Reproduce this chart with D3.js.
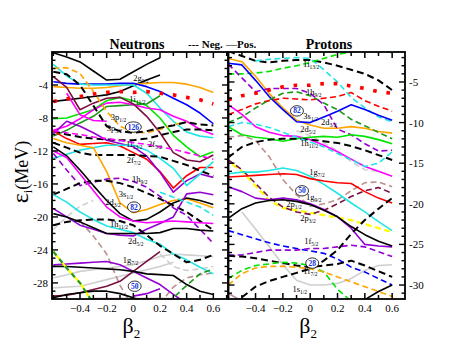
<!DOCTYPE html>
<html><head><meta charset="utf-8">
<script src="https://cdn.jsdelivr.net/npm/d3@7"></script>
<style>body{margin:0;background:#fff}svg{display:block}text{font-family:"Liberation Serif","Times New Roman",serif}</style>
</head><body><svg id="c" width="457" height="353"></svg>
<script>
const betas = [-0.6,-0.5,-0.4,-0.3,-0.2,-0.1,0,0.1,0.2,0.3,0.4,0.5,0.6];
const _ = null;
// ---------- Neutron levels (MeV) ----------
const nBlackTop   = [-0.1,-0.6,-1.2,-2.3,-3.4,-3.3,-2.4,-1.5,-0.7,_,_,_,_];
const nBlack2g    = [-6.0,-5.8,-5.6,-5.4,-5.2,-4.8,-4.1,-3.4,-2.8,_,_,_,_];
const nOrangeTop  = [-4.2,-4.3,-4.4,-4.4,-4.3,-4.1,-3.9,-3.8,-3.7,-3.7,-3.9,-4.3,-4.9];
const nBlueTop    = [-3.6,-3.8,-3.9,-3.9,-3.9,-3.8,-3.8,-4.2,-4.8,-5.6,-6.4,-7.4,-8.7];
const nRedDot     = [-6.0,-5.7,-5.4,-5.1,-4.9,-4.8,-4.9,-4.8,-5.0,-5.2,-5.5,-5.8,-6.3];
const nCyanTop    = [-1.5,-2.9,-3.9,-4.0,-4.0,-4.0,-4.0,-5.0,-6.8,-8.4,-9.7,-10.2,-10.4];
const nLime       = [-8.1,-8.0,-7.5,-7.0,-5.9,-5.5,-5.9,-6.5,-8.0,-10.1,-11.5,-12.7,-12.1];
const nDkGreen    = [-10.2,-9.5,-8.6,-7.8,-6.6,-6.5,-6.4,-6.3,-5.3,_,_,_,_];
const nMagenta1   = [-9.5,-9.0,-8.1,-7.0,-6.2,-6.1,-6.4,-6.8,-7.0,-7.8,-8.4,-9.4,-10.0];
const nMagenta2   = [_,-5.0,-7.6,-8.3,-8.4,_,_,_,_,_,_,_,_];
const nOrangeDash = [-2.0,-1.9,-2.6,-4.8,-7.2,-9.0,-9.7,-9.8,-9.4,-8.8,-8.5,_,_];
const nBlackDashA = [-2.4,-2.7,-4.0,-6.5,-9.0,-9.6,-9.8,-9.6,-9.2,-8.9,-8.5,-8.8,-8.9];
const nBlackDashB = [-9.6,-10.0,-10.3,-10.5,-10.6,-10.7,-10.7,-10.5,-10.1,-9.7,-9.4,-9.4,-9.5];
const nRed        = [-9.6,-10.5,-11.2,-11.1,-11.0,-11.4,-12.2,-13.0,-14.5,-16.5,-15.0,-14.0,-14.0];
const nPurple1    = [-9.9,-8.4,-9.0,-9.8,-10.7,-11.1,-11.5,-12.6,-14.6,-17.0,-15.6,-14.8,-15.2];
const nCyan2      = [-12.9,-12.4,-11.9,-11.6,-11.3,-11.3,-11.3,-11.9,-12.9,-14.1,-16.2,-14.8,-13.3];
const nBlackDash2f= [-11.0,-11.6,-12.2,-12.5,-12.5,-12.5,-12.5,-12.6,-12.7,-13.2,-13.7,-14.4,-15.0];
const nMagentaDash= [-9.5,-9.8,-10.0,-10.3,-10.5,-10.7,-11.0,-11.2,-11.5,-11.8,-12.2,-12.6,-13.0];
const nOrange2    = [-10.5,-11.0,-11.3,-11.6,-14.5,-18.3,-19.5,-19.1,-18.5,-18.0,-17.8,-18.3,-18.9];
const nPurpleDash = [-12.3,-14.3,-16.2,-15.8,-15.4,-15.3,-15.7,-16.4,-17.5,-18.9,-19.8,-21.5,-23.2];
const nBlackDash1h= [-17.3,-16.6,-15.9,-15.6,-15.6,-15.9,-16.4,-17.1,-17.8,-18.6,-19.4,-20.5,-21.6];
const nBlackC     = [-11.5,-12.6,-14.3,-16.2,-18.0,-19.6,-20.5,-20.3,-19.4,-18.3,-17.7,-18.0,-18.5];
const nPurple2    = [-19.0,-20.0,-21.0,-21.5,-22.0,-22.2,-22.3,-21.5,-20.8,-20.0,-17.2,-17.0,-17.3];
const nCyan3      = [-17.3,-18.2,-19.4,-20.3,-21.1,-21.5,-21.9,-22.7,-23.3,-24.5,-25.2,-26.1,-26.9];
const nMagenta3   = [-12.0,-12.8,-14.8,-16.8,-18.8,-20.0,-20.5,-20.7,-20.6,-20.5,-20.6,-20.7,-20.8];
const nCyanDash   = [_,_,_,_,_,_,_,_,-17.0,-17.6,-18.2,-18.8,-19.8];
const nBlack1h    = [-19.6,-20.0,-20.6,-21.3,-22.0,-22.0,-22.0,-22.0,-21.9,-21.4,-21.4,-21.6,-21.7];
const nBlackDashE = [-21.0,-20.6,-20.4,-20.3,-20.3,-20.5,-21.0,-22.2,-23.5,-24.5,-25.5,-25.2,-24.6];
const nGray1      = [-27.4,-27.0,-26.6,-26.4,-26.2,-26.0,-25.8,-25.3,-24.8,-24.5,-24.6,-24.7,-24.8];
const nGray2      = [-28.6,-28.5,-28.4,-28.0,-27.6,-27.2,-26.8,-26.4,-26.0,-25.5,_,_,_];
const nGrayDash1  = [_,_,_,_,_,_,_,_,-24.5,-26.0,-26.5,-26.3,-26.0];
const nGrayDash2  = [-21.5,-20.0,-18.7,-18.0,_,_,_,_,_,_,_,_,_];
const nRosyDash1  = [_,_,-20.5,-22.3,-24.5,-28.3,-31.0,_,_,_,_,_,_];
const nRosyDash2  = [_,_,_,_,_,_,_,_,-30.5,-28.5,-27.4,-27.0,-26.8];
const nMaroon1    = [-29.6,-29.5,-29.2,-28.8,-28.4,-27.8,-26.6,-25.4,-24.2,_,_,_,_];
const nMaroon2    = [-3.0,-4.3,-7.0,-6.2,-5.6,-5.5,-6.3,-7.8,-9.8,-12.2,-13.1,-13.3,-12.5];
const nPurple1g   = [-25.8,-25.7,-25.6,-25.5,-25.4,-25.8,-26.6,-27.4,-28.2,-29.4,-30.5,_,_];
const nPurpleLow  = [_,_,_,_,_,_,-29.6,-29.3,-28.7,_,_,_,_];
const nBlack1g    = [-26.0,-26.0,-26.1,-26.2,-26.3,-26.4,-26.6,-26.9,-27.0,-27.1,-28.2,-29.0,-29.4];
const nBlackLow   = [-29.8,-29.4,-29.2,-29.0,-29.0,-29.3,-29.8,-30.5,_,_,_,_,_];
const nYellowGreen= [-24.2,-26.2,-28.0,-30.5,_,_,_,_,_,_,_,_,_];
const nGreenDashR = [_,_,_,_,_,_,_,_,-31.0,-29.8,-28.3,-26.9,-26.3];
const nRosyLow    = [_,_,_,-29.9,-29.9,-29.9,-29.9,-29.9,-29.9,-29.9,_,_,_];

// ---------- Proton levels (MeV) ----------
const pBlackDashTop = [-1.2,-1.8,-2.4,-2.6,-2.4,-2.3,-2.3,-2.6,-3.0,-3.5,-4.0,-4.8,-6.0];
const pCyanDashTop  = [_,_,-2.4,-2.2,-2.1,-2.0,-2.1,-3.5,-5.0,-6.9,-8.2,-9.3,-9.9];
const pLimeDashTop  = [-4.0,-4.0,-3.9,-3.7,-3.3,-3.0,-2.6,-2.1,-1.6,-1.3,-1.2,-1.1,-1.4];
const pOrange       = [-2.1,-2.5,-4.3,-6.4,-8.2,-9.7,-10.3,-10.7,-10.7,-10.5,-10.7,-11.1,-11.3];
const pBlue         = [-2.7,-2.9,-4.8,-6.8,-8.4,-9.9,-10.0,-9.3,-8.6,-7.8,-8.4,-9.1,-9.7];
const pRedDot       = [-7.2,-6.7,-6.4,-6.0,-5.6,-5.4,-5.4,-5.2,-5.2,-5.5,-5.8,-6.2,-6.4];
const pRedDash      = [-9.0,-8.4,-7.7,-7.3,-7.0,-7.1,-7.2,-7.0,-6.8,-6.3,-7.3,-8.0,-8.6];
const pDkGreenDash  = [-10.0,-9.3,-8.2,-7.2,-6.4,-6.2,-6.7,-7.6,-8.4,-9.6,-10.4,-11.2,-12.0];
const pPurpleDash   = [-2.8,-4.5,-6.2,-5.8,-5.8,-5.8,-6.4,-7.8,-10.8,-11.5,-12.6,-13.5,-13.4];
const pMagenta      = [-7.8,-9.0,-10.5,-11.2,-11.6,-11.7,-12.1,-12.8,-13.6,-14.5,-15.4,-16.0,-16.6];
const pLime         = [-10.5,-11.5,-11.8,-12.0,-12.3,-12.0,-11.8,-11.7,-11.8,-11.5,-11.7,-12.1,-12.6];
const pBlackDash1h  = [-14.3,-13.0,-12.4,-12.1,-12.0,-12.0,-12.1,-12.3,-12.5,-12.9,-13.4,-14.0,-14.6];
const pCyanDash2    = [-10.5,-10.0,-10.2,-10.6,-11.2,-11.8,-12.4,-13.0,-13.8,-14.6,-15.4,-15.0,-13.6];
const pGrayDash     = [_,_,_,_,_,-11.0,-11.6,-12.5,-13.5,-14.8,-15.8,-16.0,_];
const pRosyDash     = [-11.8,-11.6,-12.2,-14.2,-17.0,-18.9,-20.3,-20.0,-19.5,-18.4,-17.4,-17.3,-17.9];
const pMaroonDash   = [-14.6,-15.8,-17.5,-19.2,-20.4,-21.0,-21.3,-20.8,-20.0,-19.1,-18.4,-18.0,-18.7];
const pYellowDash   = [-14.8,-16.0,-17.8,-19.6,-20.5,-20.8,-21.1,-21.4,-21.7,-22.0,-22.5,-23.0,-23.5];
const pCyan         = [-16.3,-16.1,-16.1,-15.9,-15.6,-15.9,-16.6,-17.6,-18.7,-19.9,-21.0,-22.2,-23.3];
const pRed          = [-16.7,-16.6,-16.5,-16.4,-16.3,-16.4,-16.9,-17.2,-17.4,-17.5,-18.5,-19.3,-19.9];
const pPurple       = [-17.9,-18.5,-19.3,-19.5,-19.3,-19.5,-20.0,-20.7,-21.6,-23.0,-25.0,-25.2,-25.3];
const pBlackArc     = [-21.8,-20.6,-19.9,-19.6,-19.5,-19.7,-20.1,-20.8,-21.6,-22.8,-23.8,-24.6,-25.2];
const pGray         = [_,-21.0,-23.1,-25.3,-27.5,-29.4,-30.0,-30.0,-29.8,-29.2,-28.2,-27.6,-27.5];
const pBlueDash     = [-23.3,-23.8,-24.3,-24.8,-25.2,-25.5,-25.8,-26.1,-26.8,-27.8,-28.4,-29.2,-30.0];
const pPurpleDash2  = [-26.3,-26.3,-26.0,-25.7,-25.7,-25.7,-25.5,-25.5,-25.3,-25.1,-25.3,-25.9,-26.5];
const pBlackDashUp  = [_,-31.5,-30.2,-29.5,-29.0,-28.5,-28.0,-27.0,-25.7,-23.7,-22.0,-20.6,-19.3];
const pBlackDash1f  = [-26.4,-26.5,-26.7,-27.0,-27.3,-27.6,-27.8,-27.6,-27.4,-27.0,-27.6,-28.3,-29.0];
const pLimeDash2    = [-29.2,-28.2,-27.6,-27.4,-27.2,-27.3,-27.6,-28.4,-30.5,-32.0,_,_,_];
const pOrangeDash   = [-30.0,-28.6,-27.9,-27.7,-27.7,-27.8,-28.0,-28.4,-29.0,-29.6,-30.2,-30.8,-31.4];
const pBlackLow     = [_,_,_,_,_,_,_,_,_,-32.6,-31.8,-30.8,-30.0];
const pRosyLow      = [-31.0,-32.0,_,_,_,_,_,_,_,_,_,_,_];

// tick labels
const xTickLabels = [-0.4,-0.2,0,0.2,0.4,0.6];
const nYTickLabels = [-4,-8,-12,-16,-20,-24,-28];
const pYTickLabels = [-5,-10,-15,-20,-25,-30];

const C = {k:'#000',o:'#ffa500',b:'#0000ff',r:'#ff0000',c:'#22e5e5',l:'#00e600',g:'#1a9a1a',m:'#ff00ff',
  p:'#9400d3',mr:'#7a0f40',rb:'#bc8f8f',gr:'#cfcfcf',y:'#ffff00'};

const neutronSeries = [
  [nGray1,'gr','s'],[nGray2,'gr','s'],[nGrayDash1,'gr','d'],[nGrayDash2,'gr','d'],[nRosyLow,'rb','s'],
  [nRosyDash1,'rb','d'],[nRosyDash2,'rb','d'],
  [nBlackTop,'k','s'],[nBlack2g,'k','s'],[nOrangeTop,'o','s'],[nBlueTop,'b','s'],[nCyanTop,'c','s'],
  [nLime,'l','s'],[nDkGreen,'g','s'],[nMagenta1,'m','s'],[nMagenta2,'m','s'],[nMaroon2,'mr','s'],
  [nOrangeDash,'o','d'],[nBlackDashA,'k','kd'],[nBlackDashB,'k','kd'],[nRed,'r','s'],[nPurple1,'p','s'],
  [nCyan2,'c','s'],[nBlackDash2f,'k','kd'],[nMagentaDash,'m','d'],[nOrange2,'o','s'],[nPurpleDash,'p','d'],
  [nBlackDash1h,'k','kd'],[nBlackC,'k','s'],[nPurple2,'p','s'],[nCyan3,'c','s'],[nMagenta3,'m','s'],
  [nCyanDash,'c','d'],[nBlack1h,'k','s'],[nBlackDashE,'k','kd'],[nMaroon1,'mr','s'],[nPurple1g,'p','s'],
  [nPurpleLow,'p','s'],[nBlack1g,'k','s'],[nBlackLow,'k','s'],[nYellowGreen,'y','ys'],[nYellowGreen,'g','gd'],
  [nGreenDashR,'g','d'],[nRedDot,'r','dot']
];
const protonSeries = [
  [pGray,'gr','s'],[pGrayDash,'gr','d'],[pRosyLow,'rb','s'],[pRosyDash,'rb','d'],
  [pBlackDashTop,'k','kd'],[pCyanDashTop,'c','d'],[pLimeDashTop,'l','d'],[pOrange,'o','s'],[pBlue,'b','s'],
  [pRedDash,'r','d'],[pDkGreenDash,'g','d'],[pPurpleDash,'p','d'],[pMagenta,'m','s'],[pLime,'l','s'],
  [pBlackDash1h,'k','kd'],[pCyanDash2,'c','d'],[pYellowDash,'y','ys'],[pMaroonDash,'mr','d'],
  [pCyan,'c','s'],[pRed,'r','s'],[pPurple,'p','s'],[pBlackArc,'k','s'],[pBlueDash,'b','d'],
  [pPurpleDash2,'p','d'],[pBlackDashUp,'k','kd'],[pBlackDash1f,'k','kd'],[pLimeDash2,'l','d'],
  [pOrangeDash,'o','d'],[pBlackLow,'k','s'],[pRedDot,'r','dot']
];

const nLabels = [
  ['2g','9/2',0.0,-3.5],['1i','11/2',-0.03,-6.1],['3p','1/2',-0.17,-8.2],['3p','3/2',-0.2,-9.6],
  ['1i','13/2',-0.055,-11.5],['2f','5/2',0.11,-11.5],['2f','7/2',-0.05,-13.5],['1h','9/2',-0.01,-15.8],
  ['3s','1/2',-0.11,-17.6],['2d','3/2',-0.21,-18.5],['1h','11/2',-0.175,-21.2],['2d','5/2',-0.04,-23.3],
  ['1g','7/2',-0.08,-25.6]];
const nMagic = [['126',0.0,-9.1],['82',0.005,-18.8],['50',0.01,-28.4]];
const pLabels = [
  ['1i','13/2',-0.053,-3.16],['1h','9/2',-0.03,-6.6],['3s','1/2',-0.05,-9.55],['2d','3/2',0.08,-10.3],
  ['2d','5/2',-0.073,-11.1],['1h','11/2',-0.073,-12.9],['1g','7/2',-0.007,-16.4],['1g','9/2',-0.03,-19.5],
  ['2p','1/2',-0.175,-20.4],['2p','3/2',-0.073,-22.1],['1f','5/2',-0.044,-25.0],['1f','7/2',-0.05,-28.7],
  ['1s','1/2',-0.13,-30.8]];
const pMagic = [['82',-0.097,-8.56],['50',-0.06,-18.4],['28',0.015,-27.3]];

const svg = d3.select('#c');
const topY = 52, botY = 299;

function panel(id, x0, x1, xdom, ydom, series, labels, magic, yTicks, yMajorEvery, side){
  const x = d3.scaleLinear().domain(xdom).range([x0,x1]);
  const y = d3.scaleLinear().domain(ydom).range([botY,topY]);
  svg.append('clipPath').attr('id',id).append('rect').attr('x',x0).attr('y',topY).attr('width',x1-x0).attr('height',botY-topY);
  const g = svg.append('g').attr('clip-path',`url(#${id})`);
  const line = d3.line().defined(d=>d[1]!=null).x(d=>x(d[0])).y(d=>y(d[1]));
  series.forEach(([vals,col,st])=>{
    const p = g.append('path').datum(betas.map((b,i)=>[b,vals[i]])).attr('d',line)
      .attr('fill','none').attr('stroke',C[col]).attr('stroke-linejoin','round');
    if(st==='s') p.attr('stroke-width',1.6);
    else if(st==='d') p.attr('stroke-width',1.6).attr('stroke-dasharray','6,3.5');
    else if(st==='kd') p.attr('stroke-width',2).attr('stroke-dasharray','7,4');
    else if(st==='ys') p.attr('stroke-width',2.2).attr('stroke-dasharray','6,3.5').attr('stroke-dashoffset',4.5);
    else if(st==='gd') p.attr('stroke-width',2.2).attr('stroke-dasharray','5,4.5');
    else if(st==='dot') p.attr('stroke-width',3.6).attr('stroke-dasharray','3.6,9.8');
  });
  labels.forEach(([m,s,b,e])=>{
    const t = g.append('text').attr('x',x(b)).attr('y',y(e)).attr('font-size',8.5).attr('fill','#000');
    t.append('tspan').text(m);
    t.append('tspan').attr('font-size',5.5).attr('dy',2).text(s);
  });
  magic.forEach(([s,b,e])=>{
    g.append('ellipse').attr('cx',x(b)).attr('cy',y(e)).attr('rx',s.length>2?8:6.5).attr('ry',5.2)
      .attr('fill','#fff').attr('stroke','#000').attr('stroke-width',0.8);
    g.append('text').attr('x',x(b)).attr('y',y(e)+2.6).attr('text-anchor','middle').attr('font-size',7.5)
      .attr('font-weight','bold').attr('fill','#1030e0').text(s);
  });
  svg.append('rect').attr('x',x0).attr('y',topY).attr('width',x1-x0).attr('height',botY-topY)
    .attr('fill','none').attr('stroke','#000').attr('stroke-width',1.8);
  const xt = d3.range(-6,8).map(i=>i/10).filter(v=>x(v)>x0+1 && x(v)<x1-1);
  xt.forEach(v=>{
    const major = xTickLabels.some(l=>Math.abs(l-v)<1e-6);
    const L = major?6:4;
    svg.append('line').attr('x1',x(v)).attr('x2',x(v)).attr('y1',botY).attr('y2',botY-L).attr('stroke','#000').attr('stroke-width',1.5);
    svg.append('line').attr('x1',x(v)).attr('x2',x(v)).attr('y1',topY).attr('y2',topY+L).attr('stroke','#000').attr('stroke-width',1.5);
  });
  xTickLabels.forEach(v=>{
    svg.append('text').attr('x',x(v)).attr('y',312).attr('text-anchor','middle').attr('font-size',11).text(v===0?'0':d3.format('.1f')(v));
  });
  const yt = d3.range(Math.ceil(ydom[0]),Math.floor(ydom[1])+1).filter(v=>y(v)>topY+1 && y(v)<botY-1);
  yt.forEach(v=>{
    const major = v % yMajorEvery === 0;
    const L = major?6:3.5;
    svg.append('line').attr('x1',x0).attr('x2',x0+L).attr('y1',y(v)).attr('y2',y(v)).attr('stroke','#000').attr('stroke-width',1.4);
    svg.append('line').attr('x1',x1).attr('x2',x1-L).attr('y1',y(v)).attr('y2',y(v)).attr('stroke','#000').attr('stroke-width',1.4);
  });
  yTicks.forEach(v=>{
    if(side==='left') svg.append('text').attr('x',x0-4).attr('y',y(v)+4).attr('text-anchor','end').attr('font-size',11).text(v);
    else svg.append('text').attr('x',x1+4).attr('y',y(v)+4).attr('text-anchor','start').attr('font-size',11).text(v);
  });
  const bl = svg.append('text').attr('x',x(0)-2).attr('y',333).attr('text-anchor','middle').attr('font-size',22);
  bl.append('tspan').text('β');
  bl.append('tspan').attr('font-size',13).attr('dy',5).text('2');
}

panel('clipN',52,228,[-0.61,0.71],[-29.95,0],neutronSeries,nLabels,nMagic,nYTickLabels,4,'left');
panel('clipP',228.5,405,[-0.598,0.694],[-31.72,-1.31],protonSeries,pLabels,pMagic,pYTickLabels,5,'right');

svg.append('text').attr('x',137).attr('y',49).attr('text-anchor','middle').attr('font-size',14).attr('font-weight','bold').text('Neutrons');
svg.append('text').attr('x',329).attr('y',49).attr('text-anchor','middle').attr('font-size',14).attr('font-weight','bold').text('Protons');
svg.append('text').attr('x',188).attr('y',48).attr('font-size',11).attr('font-weight','bold').text('--- Neg.');
svg.append('text').attr('x',226).attr('y',48).attr('font-size',11).attr('font-weight','bold').text('—Pos.');
const yl = svg.append('text').attr('transform','translate(28,172) rotate(-90)').attr('text-anchor','middle').attr('font-size',18);
yl.append('tspan').attr('font-size',24).text('ε');
yl.append('tspan').attr('font-size',12).attr('dy',4).text('i');
yl.append('tspan').attr('dy',-4).text('(MeV)');
</script></body></html>
